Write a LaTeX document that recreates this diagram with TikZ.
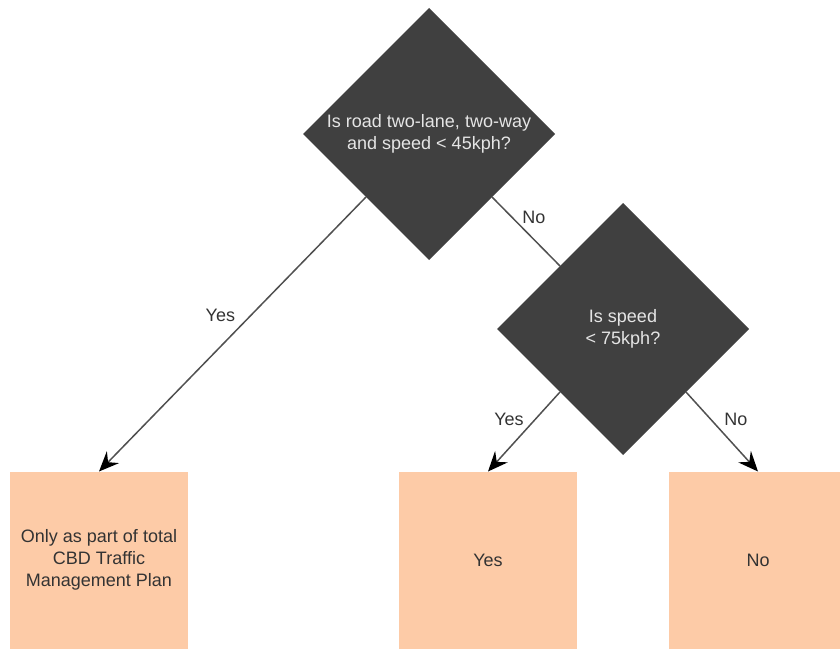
\documentclass[tikz,border=0pt]{standalone}
\usepackage{fontspec}
\setmainfont{Liberation Sans}
\usetikzlibrary{arrows.meta,shapes.geometric}

\definecolor{darkgrey}{HTML}{404040}
\definecolor{peach}{HTML}{FDCBA7}
\definecolor{linegrey}{HTML}{505050}

\tikzset{
  txt/.style={font=\fontsize{18}{22}\selectfont},
  decision/.style={diamond, aspect=1, fill=darkgrey, minimum width=252pt, minimum height=252pt,
    inner sep=0pt, outer sep=0pt, align=center, text=white!90!black, txt},
  outcome/.style={rectangle, fill=peach, minimum width=178pt, minimum height=177pt,
    inner sep=0pt, outer sep=0pt, align=center, text=black!80, txt},
  link/.style={color=linegrey, line width=1.5pt},
  branch/.style={link, -{Stealth[length=20pt, width=17pt, inset=7pt, color=black]}},
  lbl/.style={text=black!80, txt}
}

\begin{document}
\begin{tikzpicture}[x=1pt, y=-1pt]
\useasboundingbox (0,0) rectangle (840,650);

\node[decision] at (429,134) (d1) {Is road two-lane, two-way\\and speed < 45kph?};
\node[decision] at (623,329) (d2) {Is speed\\< 75kph?};

\node[outcome] at (99,560) (b1) {Only as part of total\\CBD Traffic\\Management Plan};
\node[outcome] at (488,560) (b2) {Yes};
\node[outcome] at (758,560) (b3) {No};

\draw[branch] (d1.south west) -- node[lbl, pos=0.43, left=12pt]{Yes} (b1.north);
\draw[link] (d1.south east) -- node[lbl, pos=0.30, right=6pt]{No} (d2.north west);
\draw[branch] (d2.south west) -- node[lbl, pos=0.35, left=7pt]{Yes} (b2.north);
\draw[branch] (d2.south east) -- node[lbl, pos=0.35, right=9pt]{No} (b3.north);

\end{tikzpicture}
\end{document}
